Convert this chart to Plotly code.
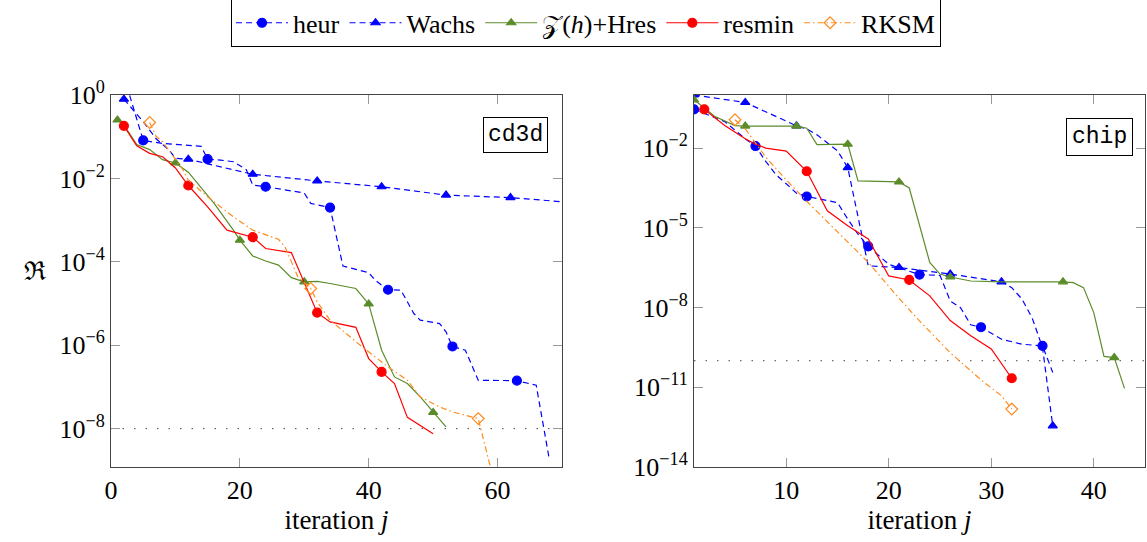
import plotly.graph_objects as go

# ---------------- data (values stored as log10 of the residual measure) ----------------
# cd3d (left panel)
heur_cd3d_x = [2, 5, 8, 14, 15, 17, 19, 21, 22, 24, 30, 31, 34, 36, 40, 41, 42, 43, 45, 47, 48, 51, 52, 53, 55, 57, 63, 66, 68]
heur_cd3d_e = [0.45, -1.09, -1.16, -1.23, -1.54, -1.56, -1.60, -1.79, -2.16, -2.20, -2.35, -2.60, -2.70, -4.10, -4.26, -4.44,
               -4.56, -4.67, -4.68, -5.24, -5.40, -5.48, -5.68, -6.03, -6.12, -6.84, -6.85, -6.96, -8.71]
heur_cd3d_marks = [5, 15, 24, 34, 43, 53, 63]

wachs_cd3d_x = [2, 5, 7, 9, 10, 12, 15, 22, 32, 42, 52, 62, 70]
wachs_cd3d_e = [-0.10, -0.64, -1.05, -1.32, -1.52, -1.54, -1.65, -1.90, -2.06, -2.20, -2.40, -2.46, -2.56]
wachs_cd3d_marks = [2, 12, 22, 32, 42, 52, 62]

zh_cd3d_x = [1, 2, 4, 6, 8, 10, 12, 16, 19, 20, 22, 24, 26, 28, 30, 32, 34, 38, 40, 42, 44, 46, 48, 50, 52]
zh_cd3d_e = [-0.60, -0.72, -1.19, -1.31, -1.55, -1.63, -1.85, -2.60, -3.24, -3.48, -3.86, -3.98, -4.08, -4.38, -4.48,
             -4.47, -4.52, -4.64, -5.01, -6.12, -6.76, -6.92, -7.24, -7.61, -7.96]
zh_cd3d_marks = [1, 10, 20, 30, 40, 50]

resmin_cd3d_x = [2, 4, 6, 8, 10, 12, 15, 18, 22, 24, 28, 32, 34, 38, 40, 42, 44, 46, 50]
resmin_cd3d_e = [-0.74, -1.22, -1.40, -1.48, -1.75, -2.17, -2.68, -3.24, -3.41, -3.68, -3.78, -5.22, -5.44, -5.57,
                 -6.32, -6.64, -6.92, -7.73, -8.12]
resmin_cd3d_marks = [2, 12, 22, 32, 42]

rksm_cd3d_x = [6, 7, 8, 11, 12, 15, 19, 22, 26, 27, 29, 31, 32, 34, 39, 43, 46, 48, 51, 53, 57, 60]
rksm_cd3d_e = [-0.66, -0.99, -1.12, -1.75, -2.04, -2.44, -2.92, -3.24, -3.46, -3.64, -4.36, -4.64, -4.96, -5.40,
               -6.04, -6.52, -6.84, -7.24, -7.48, -7.60, -7.76, -9.60]
rksm_cd3d_marks = [6, 31, 57]

tol_cd3d = 1e-8

# chip (right panel)
heur_chip_x = [1, 4, 6, 7, 8, 9, 10, 11, 12, 14, 15, 16, 17, 18, 20, 23, 25, 26, 27, 28, 29, 31, 33, 35, 36]
heur_chip_e = [-0.54, -1.00, -1.65, -1.92, -2.50, -3.00, -3.34, -3.70, -3.82, -3.99, -4.05, -4.67, -5.24, -5.70,
               -6.37, -6.76, -6.79, -7.75, -8.00, -8.65, -8.74, -9.19, -9.38, -9.44, -10.44]
heur_chip_marks = [1, 7, 12, 18, 23, 29, 35]

wachs_chip_x = [1, 6, 11, 12, 13, 15, 16, 17, 18, 21, 26, 31, 32, 33, 34, 35, 36]
wachs_chip_e = [0.00, -0.28, -1.16, -1.28, -1.50, -2.10, -2.73, -4.60, -6.43, -6.49, -6.74, -7.03, -7.25, -7.68,
                -8.40, -9.50, -12.45]
wachs_chip_marks = [1, 6, 11, 16, 21, 26, 31, 36]

zh_chip_x = [1, 3, 5, 6, 11, 12, 13, 16, 17, 21, 22, 24, 25, 26, 28, 31, 37, 38, 39, 40, 41, 42, 43]
zh_chip_e = [-0.18, -0.80, -1.15, -1.17, -1.17, -1.25, -1.87, -1.85, -3.23, -3.27, -3.50, -6.30, -6.74, -6.85,
             -7.00, -7.03, -7.03, -7.06, -7.25, -8.19, -9.84, -9.88, -11.04]
zh_chip_marks = [1, 6, 11, 16, 21, 26, 37, 42]

resmin_chip_x = [2, 4, 6, 7, 8, 10, 12, 14, 16, 18, 20, 22, 24, 26, 28, 30, 32]
resmin_chip_e = [-0.54, -1.15, -1.65, -1.85, -2.00, -2.11, -2.87, -4.36, -4.92, -5.42, -6.81, -6.96, -7.56, -8.49,
                 -9.06, -9.56, -10.66]
resmin_chip_marks = [2, 12, 22, 32]

rksm_chip_x = [5, 6, 8, 10, 12, 15, 18, 21, 23, 26, 29, 31, 32]
rksm_chip_e = [-0.93, -1.27, -2.34, -3.20, -4.00, -5.17, -6.30, -7.65, -8.50, -9.70, -10.72, -11.32, -11.82]
rksm_chip_marks = [5, 32]

tol_chip = 1e-10

series_names = ["heur", "Wachs", "𝒵(<i>h</i>)+Hres", "resmin", "RKSM"]

# ---------------- styles ----------------
BLUE = "#0000ff"
GREEN = "#5b8c2a"
RED = "#ff0000"
ORANGE = "#ff8a1c"
styles = [
    dict(color=BLUE, dash="6px,4px", symbol="circle", size=9),
    dict(color=BLUE, dash="6px,4px", symbol="triangle-up", size=8),
    dict(color=GREEN, dash="solid", symbol="triangle-up", size=8),
    dict(color=RED, dash="solid", symbol="circle", size=9),
    dict(color=ORANGE, dash="6px,3px,1.5px,3px", symbol="diamond-open", size=9),
]

FONT = "'Liberation Serif', 'Times New Roman', serif"
MONO = "'Liberation Mono', 'DejaVu Sans Mono', monospace"
W, H = 1147, 542

fig = go.Figure()


def add_series(xs, es, marks, k, xa, ya, show):
    st = styles[k]
    ys = [10 ** e for e in es]
    fig.add_trace(go.Scatter(x=xs, y=ys, mode="lines", xaxis=xa, yaxis=ya,
                             line=dict(color=st["color"], width=1.2, dash=st["dash"]),
                             showlegend=False, legendgroup=str(k), hoverinfo="skip"))
    mx, my = [], []
    for xv, yv in zip(xs, ys):
        if xv in marks:
            mx += [xv, None]
            my += [yv, None]
    fig.add_trace(go.Scatter(x=mx, y=my, mode="lines+markers", xaxis=xa, yaxis=ya,
                             line=dict(color=st["color"], width=1.2, dash=st["dash"]),
                             marker=dict(symbol=st["symbol"], size=st["size"], color=st["color"],
                                         line=dict(color=st["color"], width=1.2)),
                             connectgaps=False, name=series_names[k], legendgroup=str(k),
                             showlegend=show))


left = [(heur_cd3d_x, heur_cd3d_e, heur_cd3d_marks), (wachs_cd3d_x, wachs_cd3d_e, wachs_cd3d_marks),
        (zh_cd3d_x, zh_cd3d_e, zh_cd3d_marks), (resmin_cd3d_x, resmin_cd3d_e, resmin_cd3d_marks),
        (rksm_cd3d_x, rksm_cd3d_e, rksm_cd3d_marks)]
right = [(heur_chip_x, heur_chip_e, heur_chip_marks), (wachs_chip_x, wachs_chip_e, wachs_chip_marks),
         (zh_chip_x, zh_chip_e, zh_chip_marks), (resmin_chip_x, resmin_chip_e, resmin_chip_marks),
         (rksm_chip_x, rksm_chip_e, rksm_chip_marks)]

# threshold dotted lines
fig.add_trace(go.Scatter(x=[0, 70], y=[tol_cd3d, tol_cd3d], mode="lines", xaxis="x", yaxis="y",
                         line=dict(color="#444", width=1, dash="1.5px,10px"), showlegend=False, hoverinfo="skip"))
fig.add_trace(go.Scatter(x=[1, 45], y=[tol_chip, tol_chip], mode="lines", xaxis="x2", yaxis="y2",
                         line=dict(color="#444", width=1, dash="1.5px,10px"), showlegend=False, hoverinfo="skip"))

for k, (xs, es, mk) in enumerate(left):
    add_series(xs, es, mk, k, "x", "y", True)
for k, (xs, es, mk) in enumerate(right):
    add_series(xs, es, mk, k, "x2", "y2", False)

TICK = 26
axis_common = dict(showline=True, linecolor="#444", linewidth=1, mirror="allticks", ticks="inside",
                   ticklen=9, tickcolor="#999", tickwidth=1, showgrid=False, zeroline=False, automargin=False,
                   tickfont=dict(family=FONT, size=TICK, color="black"))

left_x = [111 / W, 562 / W]
right_x = [694 / W, 1145 / W]
ydom = [(H - 467) / H, (H - 95) / H]

title_font = dict(family=FONT, size=27, color="black")

fig.update_layout(
    width=W, height=H, margin=dict(l=0, r=0, t=0, b=0, autoexpand=False),
    plot_bgcolor="white", paper_bgcolor="white",
    font=dict(family=FONT, size=26, color="black"),
    xaxis=dict(domain=left_x, range=[0, 70], tickvals=[0, 20, 40, 60], anchor="y",
               title=dict(text="iteration <i>j</i>", font=title_font, standoff=4), **axis_common),
    yaxis=dict(domain=ydom, type="log", range=[-8.92, 0], anchor="x",
               tickvals=[1, 1e-2, 1e-4, 1e-6, 1e-8],
               ticktext=["10<sup>0</sup>", "10<sup>−2</sup>", "10<sup>−4</sup>", "10<sup>−6</sup>", "10<sup>−8</sup>"],
               **axis_common),
    xaxis2=dict(domain=right_x, range=[1, 45], tickvals=[10, 20, 30, 40], anchor="y2",
                title=dict(text="iteration <i>j</i>", font=title_font, standoff=4), **axis_common),
    yaxis2=dict(domain=ydom, type="log", range=[-14, 0], anchor="x2",
                tickvals=[1e-2, 1e-5, 1e-8, 1e-11, 1e-14],
                ticktext=["10<sup>−2</sup>", "10<sup>−5</sup>", "10<sup>−8</sup>", "10<sup>−11</sup>", "10<sup>−14</sup>"],
                **axis_common),
    legend=dict(orientation="h", x=586 / W, xanchor="center", y=1.003, yanchor="top",
                bordercolor="black", borderwidth=1, bgcolor="white",
                font=dict(family=FONT, size=26, color="black"), itemwidth=52, tracegroupgap=0),
    annotations=[
        dict(text="cd3d", xref="paper", yref="paper", x=515 / W, y=1 - 134.7 / H, showarrow=False,
             xanchor="center", yanchor="middle",
             font=dict(family=MONO, size=23, color="black"), bordercolor="black", borderwidth=1, borderpad=4,
             bgcolor="white"),
        dict(text="chip", xref="paper", yref="paper", x=1099 / W, y=1 - 137.5 / H, showarrow=False,
             xanchor="center", yanchor="middle",
             font=dict(family=MONO, size=23, color="black"), bordercolor="black", borderwidth=1, borderpad=5,
             bgcolor="white"),
        dict(text="ℜ", xref="paper", yref="paper", x=35 / W, y=1 - 271 / H, showarrow=False,
             xanchor="center", yanchor="middle",
             font=dict(family="'DejaVu Serif', serif", size=26, color="black")),
    ],
)

fig.write_html("out.html", post_script="document.body.style.margin='0';",
               config={"displayModeBar": False})
